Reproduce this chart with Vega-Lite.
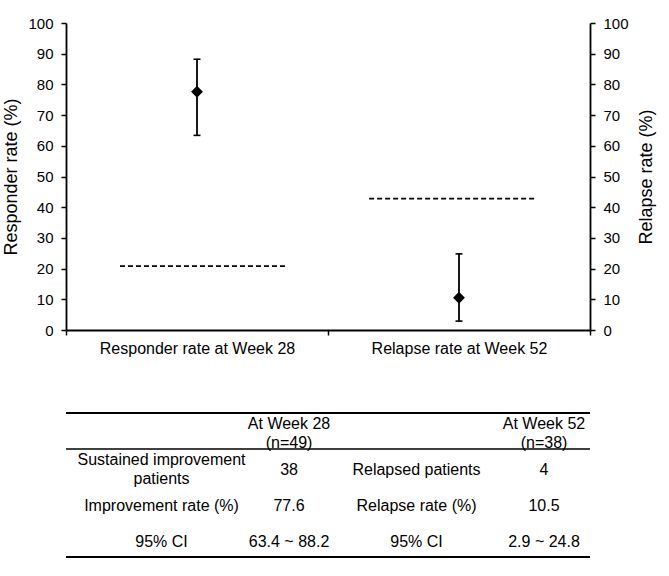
{
  "$schema": "https://vega.github.io/schema/vega-lite/v6.json",
  "background": "white",
  "padding": {"left": 2, "top": 16, "right": 5, "bottom": 5},
  "bounds": "flush",
  "spacing": 83,
  "config": {
    "font": "Liberation Sans",
    "view": {"stroke": null},
    "axis": {
      "domainColor": "black", "domainWidth": 1.8,
      "tickColor": "black", "tickWidth": 1.5, "tickSize": 5,
      "labelColor": "black", "labelFont": "Liberation Sans", "labelFontSize": 15, "labelPadding": 8,
      "titleFont": "Liberation Sans", "titleFontSize": 18, "titleFontWeight": "normal", "titleColor": "black",
      "grid": false
    }
  },
  "datasets": {
    "resp": [{"x": 0.5, "est": 77.6, "lo": 63.4, "hi": 88.2}],
    "respRef": [{"x": 0.206, "x2": 0.84, "v": 20.8}],
    "rel": [{"x": 1.5, "est": 10.5, "lo": 2.9, "hi": 24.8}],
    "relRef": [{"x": 1.157, "x2": 1.794, "v": 42.8}],
    "cells1": [
      {"row": "r1", "col": "c2", "t": "38"},
      {"row": "r1", "col": "c3", "t": "Relapsed patients"},
      {"row": "r1", "col": "c4", "t": "4"},
      {"row": "r2", "col": "c1", "t": "Improvement rate (%)"},
      {"row": "r2", "col": "c2", "t": "77.6"},
      {"row": "r2", "col": "c3", "t": "Relapse rate (%)"},
      {"row": "r2", "col": "c4", "t": "10.5"},
      {"row": "r3", "col": "c1", "t": "95% CI"},
      {"row": "r3", "col": "c2", "t": "63.4 ~ 88.2"},
      {"row": "r3", "col": "c3", "t": "95% CI"},
      {"row": "r3", "col": "c4", "t": "2.9 ~ 24.8"}
    ],
    "cells2": [
      {"row": "h", "col": "c2", "t": "At Week 28\n(n=49)"},
      {"row": "h", "col": "c4", "t": "At Week 52\n(n=38)"},
      {"row": "r1", "col": "c1", "t": "Sustained improvement\npatients"}
    ]
  },
  "vconcat": [
    {
      "width": 524,
      "height": 307,
      "encoding": {
        "x": {
          "field": "x", "type": "quantitative",
          "scale": {"domain": [0, 2], "nice": false, "zero": false},
          "axis": {
            "title": null,
            "values": [0, 0.5, 1, 1.5, 2],
            "labelExpr": "datum.value == 0.5 ? 'Responder rate at Week 28' : datum.value == 1.5 ? 'Relapse rate at Week 52' : ''",
            "labelFontSize": 16,
            "labelPadding": 5,
            "labelLimit": 400,
            "labelFlush": false,
            "labelOverlap": false,
            "tickOpacity": {"condition": {"test": "datum.value == 0.5 || datum.value == 1.5", "value": 0}, "value": 1}
          }
        }
      },
      "layer": [
        {
          "layer": [
            {
              "data": {"name": "respRef"},
              "mark": {"type": "rule", "color": "black", "strokeWidth": 1.8, "strokeDash": [5, 3]},
              "encoding": {
                "x2": {"field": "x2"},
                "y": {"field": "v", "type": "quantitative", "scale": {"domain": [0, 100], "nice": false},
                  "axis": {"orient": "left", "title": "Responder rate (%)", "values": [0,10,20,30,40,50,60,70,80,90,100], "titlePadding": 7}}
              }
            },
            {
              "data": {"name": "resp"},
              "mark": {"type": "rule", "color": "black", "strokeWidth": 1.8},
              "encoding": {
                "y": {"field": "lo", "type": "quantitative",
                  "axis": {"orient": "left", "title": "Responder rate (%)", "values": [0,10,20,30,40,50,60,70,80,90,100], "titlePadding": 7}},
                "y2": {"field": "hi"}
              }
            },
            {
              "data": {"name": "resp"},
              "mark": {"type": "tick", "orient": "horizontal", "color": "black", "size": 7, "thickness": 1.6, "opacity": 1},
              "encoding": {"y": {"field": "lo", "type": "quantitative",
                "axis": {"orient": "left", "title": "Responder rate (%)", "values": [0,10,20,30,40,50,60,70,80,90,100], "titlePadding": 7}}}
            },
            {
              "data": {"name": "resp"},
              "mark": {"type": "tick", "orient": "horizontal", "color": "black", "size": 7, "thickness": 1.6, "opacity": 1},
              "encoding": {"y": {"field": "hi", "type": "quantitative",
                "axis": {"orient": "left", "title": "Responder rate (%)", "values": [0,10,20,30,40,50,60,70,80,90,100], "titlePadding": 7}}}
            },
            {
              "data": {"name": "resp"},
              "mark": {"type": "point", "shape": "diamond", "filled": true, "color": "black", "opacity": 1, "size": 140},
              "encoding": {"y": {"field": "est", "type": "quantitative",
                "axis": {"orient": "left", "title": "Responder rate (%)", "values": [0,10,20,30,40,50,60,70,80,90,100], "titlePadding": 7}}}
            }
          ]
        },
        {
          "layer": [
            {
              "data": {"name": "relRef"},
              "mark": {"type": "rule", "color": "black", "strokeWidth": 1.8, "strokeDash": [5, 3]},
              "encoding": {
                "x2": {"field": "x2"},
                "y": {"field": "v", "type": "quantitative", "scale": {"domain": [0, 100], "nice": false},
                  "axis": {"orient": "right", "title": "Relapse rate (%)", "values": [0,10,20,30,40,50,60,70,80,90,100], "titlePadding": 9, "titleAngle": 270, "titleBaseline": "top"}}
              }
            },
            {
              "data": {"name": "rel"},
              "mark": {"type": "rule", "color": "black", "strokeWidth": 1.8},
              "encoding": {
                "y": {"field": "lo", "type": "quantitative",
                  "axis": {"orient": "right", "title": "Relapse rate (%)", "values": [0,10,20,30,40,50,60,70,80,90,100], "titlePadding": 9, "titleAngle": 270, "titleBaseline": "top"}},
                "y2": {"field": "hi"}
              }
            },
            {
              "data": {"name": "rel"},
              "mark": {"type": "tick", "orient": "horizontal", "color": "black", "size": 7, "thickness": 1.6, "opacity": 1},
              "encoding": {"y": {"field": "lo", "type": "quantitative",
                "axis": {"orient": "right", "title": "Relapse rate (%)", "values": [0,10,20,30,40,50,60,70,80,90,100], "titlePadding": 9, "titleAngle": 270, "titleBaseline": "top"}}}
            },
            {
              "data": {"name": "rel"},
              "mark": {"type": "tick", "orient": "horizontal", "color": "black", "size": 7, "thickness": 1.6, "opacity": 1},
              "encoding": {"y": {"field": "hi", "type": "quantitative",
                "axis": {"orient": "right", "title": "Relapse rate (%)", "values": [0,10,20,30,40,50,60,70,80,90,100], "titlePadding": 9, "titleAngle": 270, "titleBaseline": "top"}}}
            },
            {
              "data": {"name": "rel"},
              "mark": {"type": "point", "shape": "diamond", "filled": true, "color": "black", "opacity": 1, "size": 140},
              "encoding": {"y": {"field": "est", "type": "quantitative",
                "axis": {"orient": "right", "title": "Relapse rate (%)", "values": [0,10,20,30,40,50,60,70,80,90,100], "titlePadding": 9, "titleAngle": 270, "titleBaseline": "top"}}}
            }
          ]
        }
      ],
      "resolve": {"scale": {"y": "independent"}}
    },
    {
      "width": 524,
      "height": 144,
      "encoding": {
        "x": {"field": "col", "type": "ordinal", "scale": {"type": "point", "domain": ["c1", "c2", "c3", "c4"], "padding": 0.555, "align": 0.675}, "axis": null},
        "y": {"field": "row", "type": "ordinal", "scale": {"type": "band", "domain": ["h", "r1", "r2", "r3"], "paddingInner": 0, "paddingOuter": 0}, "axis": null}
      },
      "layer": [
        {
          "data": {"name": "cells1"},
          "mark": {"type": "text", "font": "Liberation Sans", "fontSize": 16, "color": "black", "align": "center", "baseline": "middle", "dy": 2.5},
          "encoding": {"text": {"field": "t", "type": "nominal"}}
        },
        {
          "data": {"name": "cells2"},
          "mark": {"type": "text", "font": "Liberation Sans", "fontSize": 16, "color": "black", "lineBreak": "\n", "lineHeight": 18.5, "align": "center", "baseline": "middle", "dy": -7},
          "encoding": {"text": {"field": "t", "type": "nominal"}}
        },
        {
          "data": {"values": [{"row": "h"}]},
          "mark": {"type": "rule", "color": "black", "strokeWidth": 2},
          "encoding": {"x": null, "y": {"field": "row", "type": "ordinal", "bandPosition": 0, "axis": null}}
        },
        {
          "data": {"values": [{"row": "r1"}]},
          "mark": {"type": "rule", "color": "black", "strokeWidth": 1.4},
          "encoding": {"x": null, "y": {"field": "row", "type": "ordinal", "bandPosition": 0, "axis": null}}
        },
        {
          "data": {"values": [{"row": "r3"}]},
          "mark": {"type": "rule", "color": "black", "strokeWidth": 2},
          "encoding": {"x": null, "y": {"field": "row", "type": "ordinal", "bandPosition": 1, "axis": null}}
        }
      ]
    }
  ]
}
